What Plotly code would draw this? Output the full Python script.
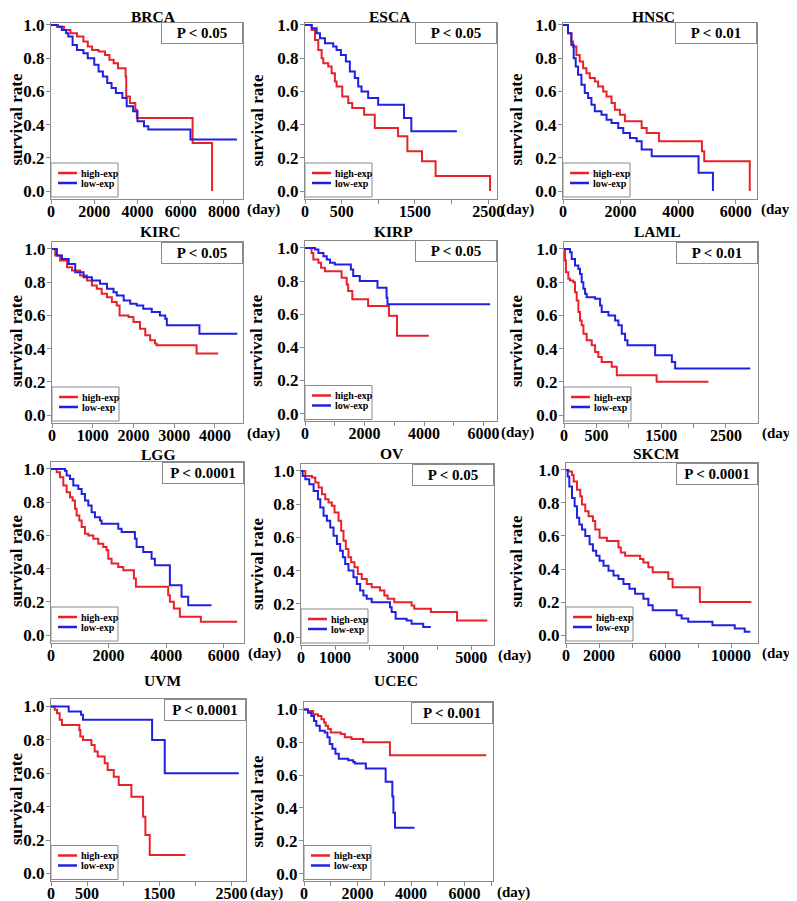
import plotly.graph_objects as go

# ---------------- data ----------------
cancers = ["BRCA", "ESCA", "HNSC", "KIRC", "KIRP", "LAML", "LGG", "OV", "SKCM", "UVM", "UCEC"]
p_labels = ["P < 0.05", "P < 0.05", "P < 0.01", "P < 0.05", "P < 0.05", "P < 0.01",
            "P < 0.0001", "P < 0.05", "P < 0.0001", "P < 0.0001", "P < 0.001"]
series_names = ["high-exp", "low-exp"]
y_tick_vals = [0.0, 0.2, 0.4, 0.6, 0.8, 1.0]
y_tick_text = ["0.0", "0.2", "0.4", "0.6", "0.8", "1.0"]

brca_high_days = [0, 300, 600, 900, 1200, 1500, 1700, 1900, 2200, 2500, 2700, 2900, 3100, 3450, 3480, 3650, 3900, 3970, 6550, 7450]
brca_high_surv = [1.0, 0.99, 0.97, 0.95, 0.93, 0.90, 0.87, 0.85, 0.84, 0.82, 0.79, 0.77, 0.74, 0.69, 0.57, 0.53, 0.49, 0.44, 0.29, 0.0]
brca_low_days = [0, 300, 500, 700, 800, 1000, 1200, 1500, 1700, 2000, 2200, 2400, 2600, 2800, 3000, 3300, 3500, 3800, 4000, 4300, 4500, 6450, 8600]
brca_low_surv = [1.0, 0.99, 0.97, 0.95, 0.93, 0.88, 0.85, 0.83, 0.80, 0.76, 0.72, 0.69, 0.65, 0.62, 0.59, 0.56, 0.51, 0.48, 0.42, 0.39, 0.37, 0.31, 0.31]

esca_high_days = [0, 91, 136, 181, 227, 249, 317, 363, 408, 431, 508, 590, 644, 807, 952, 1270, 1397, 1597, 1782, 2525]
esca_high_surv = [1.0, 0.97, 0.91, 0.85, 0.80, 0.77, 0.75, 0.71, 0.66, 0.63, 0.57, 0.53, 0.50, 0.46, 0.38, 0.33, 0.24, 0.18, 0.09, 0.0]
esca_low_days = [0, 91, 159, 204, 272, 385, 431, 490, 558, 612, 680, 726, 771, 862, 998, 1351, 1451, 2073]
esca_low_surv = [1.0, 0.98, 0.95, 0.92, 0.89, 0.87, 0.85, 0.82, 0.78, 0.72, 0.68, 0.63, 0.60, 0.56, 0.52, 0.44, 0.36, 0.36]

hnsc_high_days = [0, 174, 291, 349, 465, 581, 698, 814, 930, 1105, 1221, 1395, 1512, 1686, 1802, 1977, 2151, 2733, 2907, 3337, 4826, 4907, 6488]
hnsc_high_surv = [1.0, 0.95, 0.90, 0.87, 0.82, 0.78, 0.74, 0.71, 0.68, 0.66, 0.63, 0.60, 0.57, 0.53, 0.49, 0.46, 0.42, 0.38, 0.35, 0.30, 0.24, 0.18, 0.0]
hnsc_low_days = [0, 174, 291, 372, 442, 523, 640, 756, 872, 988, 1105, 1337, 1512, 1686, 1919, 2093, 2326, 2558, 2733, 3081, 4709, 5209]
hnsc_low_surv = [1.0, 0.95, 0.88, 0.80, 0.75, 0.70, 0.64, 0.59, 0.56, 0.52, 0.48, 0.46, 0.43, 0.41, 0.38, 0.35, 0.32, 0.30, 0.25, 0.21, 0.11, 0.0]

kirc_high_days = [0, 80, 200, 370, 490, 690, 860, 980, 1100, 1220, 1350, 1470, 1590, 1660, 1880, 2000, 2160, 2290, 2410, 2530, 2570, 3550, 4080]
kirc_high_surv = [1.0, 0.96, 0.93, 0.89, 0.87, 0.84, 0.81, 0.78, 0.76, 0.73, 0.71, 0.68, 0.66, 0.60, 0.59, 0.56, 0.52, 0.48, 0.45, 0.43, 0.42, 0.37, 0.37]
kirc_low_days = [0, 120, 245, 410, 570, 775, 980, 1180, 1350, 1510, 1590, 1760, 1920, 2080, 2240, 2450, 2650, 2780, 2820, 3620, 4550]
kirc_low_surv = [1.0, 0.96, 0.94, 0.91, 0.86, 0.83, 0.81, 0.79, 0.76, 0.74, 0.72, 0.69, 0.67, 0.66, 0.64, 0.62, 0.60, 0.58, 0.54, 0.49, 0.49]

kirp_high_days = [0, 220, 280, 450, 540, 670, 1230, 1400, 1450, 1590, 2120, 2820, 3090, 4160]
kirp_high_surv = [1.0, 0.97, 0.93, 0.91, 0.88, 0.86, 0.82, 0.78, 0.74, 0.69, 0.65, 0.59, 0.47, 0.47]
kirp_low_days = [0, 335, 450, 620, 730, 840, 1000, 1540, 1620, 1840, 2435, 2740, 2770, 6220]
kirp_low_surv = [1.0, 0.99, 0.97, 0.95, 0.93, 0.91, 0.90, 0.87, 0.83, 0.80, 0.76, 0.70, 0.66, 0.66]

laml_high_days = [0, 15, 30, 67, 93, 144, 170, 196, 222, 247, 273, 300, 350, 428, 480, 530, 582, 737, 815, 1430, 2230]
laml_high_surv = [1.0, 0.93, 0.86, 0.82, 0.81, 0.80, 0.74, 0.69, 0.62, 0.57, 0.54, 0.49, 0.45, 0.42, 0.38, 0.35, 0.32, 0.29, 0.24, 0.20, 0.20]
laml_low_days = [0, 93, 119, 170, 222, 247, 273, 299, 325, 350, 480, 557, 582, 686, 789, 840, 892, 943, 980, 1407, 1665, 1716, 2876]
laml_low_surv = [1.0, 0.98, 0.94, 0.90, 0.88, 0.85, 0.80, 0.76, 0.73, 0.71, 0.70, 0.66, 0.62, 0.60, 0.57, 0.54, 0.49, 0.45, 0.42, 0.36, 0.32, 0.28, 0.28]

lgg_high_days = [0, 197, 312, 428, 543, 659, 751, 832, 890, 983, 1064, 1179, 1295, 1468, 1642, 1815, 1931, 1988, 2104, 2335, 2509, 2879, 2948, 4069, 4127, 4266, 4474, 5202, 6462]
lgg_high_surv = [1.0, 0.98, 0.95, 0.90, 0.86, 0.83, 0.81, 0.76, 0.72, 0.69, 0.65, 0.61, 0.60, 0.58, 0.55, 0.53, 0.51, 0.46, 0.43, 0.41, 0.39, 0.34, 0.29, 0.24, 0.20, 0.16, 0.11, 0.08, 0.08]
lgg_low_days = [0, 486, 543, 659, 775, 948, 1064, 1179, 1295, 1410, 1526, 1699, 1757, 2335, 2451, 2913, 2971, 3202, 3491, 3607, 4127, 4532, 4763, 5572]
lgg_low_surv = [1.0, 0.99, 0.96, 0.94, 0.90, 0.88, 0.85, 0.81, 0.78, 0.74, 0.71, 0.69, 0.67, 0.64, 0.62, 0.58, 0.53, 0.50, 0.46, 0.42, 0.30, 0.23, 0.18, 0.18]

ov_high_days = [0, 127, 322, 420, 517, 615, 712, 810, 907, 985, 1102, 1180, 1249, 1317, 1395, 1473, 1571, 1668, 1785, 1932, 2078, 2322, 2449, 2546, 2741, 3249, 3327, 3815, 4585, 5473]
ov_high_surv = [1.0, 0.97, 0.96, 0.93, 0.90, 0.86, 0.83, 0.81, 0.79, 0.75, 0.70, 0.64, 0.58, 0.53, 0.48, 0.45, 0.42, 0.38, 0.35, 0.32, 0.30, 0.28, 0.25, 0.23, 0.21, 0.19, 0.17, 0.15, 0.10, 0.10]
ov_low_days = [0, 49, 127, 244, 371, 498, 566, 663, 761, 859, 956, 1054, 1151, 1229, 1298, 1395, 1541, 1639, 1737, 1834, 1932, 2078, 2615, 2663, 2780, 3102, 3249, 3590, 3815]
ov_low_surv = [1.0, 0.97, 0.95, 0.92, 0.88, 0.83, 0.78, 0.73, 0.70, 0.66, 0.61, 0.56, 0.52, 0.48, 0.44, 0.40, 0.36, 0.32, 0.28, 0.25, 0.23, 0.21, 0.18, 0.15, 0.11, 0.10, 0.08, 0.06, 0.06]

skcm_high_days = [0, 161, 362, 463, 664, 865, 966, 1167, 1368, 1630, 1771, 2032, 2475, 3179, 3320, 3581, 4487, 4688, 4990, 5252, 6197, 6459, 8109, 11227]
skcm_high_surv = [1.0, 0.99, 0.97, 0.93, 0.88, 0.84, 0.79, 0.75, 0.72, 0.69, 0.64, 0.59, 0.57, 0.53, 0.50, 0.48, 0.46, 0.44, 0.41, 0.38, 0.34, 0.29, 0.20, 0.20]
skcm_low_days = [0, 101, 201, 362, 523, 664, 805, 966, 1167, 1429, 1630, 1831, 2032, 2274, 2575, 2877, 3179, 3481, 3843, 4185, 4688, 4990, 5252, 6700, 7002, 7404, 8873, 10221, 10825, 11167]
skcm_low_surv = [1.0, 0.96, 0.90, 0.83, 0.78, 0.71, 0.67, 0.64, 0.60, 0.55, 0.51, 0.48, 0.45, 0.42, 0.39, 0.36, 0.34, 0.31, 0.28, 0.25, 0.22, 0.18, 0.15, 0.12, 0.10, 0.08, 0.06, 0.04, 0.02, 0.02]

uvm_high_days = [0, 51, 83, 120, 152, 393, 406, 443, 559, 605, 647, 744, 785, 869, 938, 1113, 1275, 1307, 1367, 1861]
uvm_high_surv = [1.0, 0.98, 0.96, 0.92, 0.89, 0.86, 0.82, 0.80, 0.77, 0.73, 0.70, 0.66, 0.62, 0.58, 0.53, 0.46, 0.34, 0.23, 0.11, 0.11]
uvm_low_days = [0, 245, 416, 443, 1400, 1575, 2600]
uvm_low_surv = [1.0, 0.97, 0.95, 0.92, 0.80, 0.60, 0.60]

ucec_high_days = [0, 150, 340, 525, 650, 750, 810, 900, 1000, 1375, 1525, 1775, 2210, 3210, 6810]
ucec_high_surv = [1.0, 0.99, 0.97, 0.96, 0.94, 0.92, 0.90, 0.88, 0.86, 0.85, 0.83, 0.82, 0.80, 0.72, 0.72]
ucec_low_days = [0, 150, 275, 375, 460, 590, 775, 875, 960, 1060, 1175, 1300, 1650, 1840, 1900, 2310, 3050, 3300, 3340, 3400, 4125]
ucec_low_surv = [1.0, 0.98, 0.96, 0.93, 0.90, 0.87, 0.86, 0.83, 0.79, 0.76, 0.73, 0.70, 0.69, 0.68, 0.67, 0.64, 0.56, 0.47, 0.37, 0.28, 0.28]

# x tick values and labels (unlabelled minor ticks get "")
brca_xticks, brca_xlabels = [0, 2000, 4000, 6000, 8000], ["0", "2000", "4000", "6000", "8000"]
esca_xticks, esca_xlabels = [0, 500, 1000, 1500, 2000, 2500], ["0", "500", "", "1500", "", "2500"]
hnsc_xticks, hnsc_xlabels = [0, 2000, 4000, 6000], ["0", "2000", "4000", "6000"]
kirc_xticks, kirc_xlabels = [0, 1000, 2000, 3000, 4000], ["0", "1000", "2000", "3000", "4000"]
kirp_xticks, kirp_xlabels = [0, 1000, 2000, 3000, 4000, 5000, 6000], ["0", "", "2000", "", "4000", "", "6000"]
laml_xticks, laml_xlabels = [0, 500, 1000, 1500, 2000, 2500], ["0", "500", "", "1500", "", "2500"]
lgg_xticks, lgg_xlabels = [0, 2000, 4000, 6000], ["0", "2000", "4000", "6000"]
ov_xticks, ov_xlabels = [0, 1000, 2000, 3000, 4000, 5000], ["0", "1000", "", "3000", "", "5000"]
skcm_xticks, skcm_xlabels = [0, 2000, 4000, 6000, 8000, 10000], ["0", "2000", "", "6000", "", "10000"]
uvm_xticks, uvm_xlabels = [0, 500, 1000, 1500, 2000, 2500], ["0", "500", "", "1500", "", "2500"]
ucec_xticks, ucec_xlabels = [0, 1000, 2000, 3000, 4000, 5000, 6000, 7000], ["0", "", "2000", "", "4000", "", "6000", ""]

curves = [
    (brca_high_days, brca_high_surv, brca_low_days, brca_low_surv),
    (esca_high_days, esca_high_surv, esca_low_days, esca_low_surv),
    (hnsc_high_days, hnsc_high_surv, hnsc_low_days, hnsc_low_surv),
    (kirc_high_days, kirc_high_surv, kirc_low_days, kirc_low_surv),
    (kirp_high_days, kirp_high_surv, kirp_low_days, kirp_low_surv),
    (laml_high_days, laml_high_surv, laml_low_days, laml_low_surv),
    (lgg_high_days, lgg_high_surv, lgg_low_days, lgg_low_surv),
    (ov_high_days, ov_high_surv, ov_low_days, ov_low_surv),
    (skcm_high_days, skcm_high_surv, skcm_low_days, skcm_low_surv),
    (uvm_high_days, uvm_high_surv, uvm_low_days, uvm_low_surv),
    (ucec_high_days, ucec_high_surv, ucec_low_days, ucec_low_surv),
]
xticks = [
    (brca_xticks, brca_xlabels), (esca_xticks, esca_xlabels), (hnsc_xticks, hnsc_xlabels),
    (kirc_xticks, kirc_xlabels), (kirp_xticks, kirp_xlabels), (laml_xticks, laml_xlabels),
    (lgg_xticks, lgg_xlabels), (ov_xticks, ov_xlabels), (skcm_xticks, skcm_xlabels),
    (uvm_xticks, uvm_xlabels), (ucec_xticks, ucec_xlabels),
]

# ---------------- layout (pixel geometry, in browser-window pixels) ----------------
WIN_W, WIN_H = 797, 901
OFF = 8                      # default page margin around the plot div
W, H = WIN_W - OFF, WIN_H - OFF


def px_x(x):
    return (x - OFF) / W


def px_y(y):
    return 1 - (y - OFF) / H


# (left, right, top, bottom) of plot box, x-axis max, y-axis top, title centre (x, y), y-label x
geom = [
    (51, 243, 22.5, 198.5, 8880, 1.015, 153, 16.6, 16),
    (305, 497, 22.5, 198.5, 2620, 1.015, 390, 16.6, 257),
    (563, 757, 22.5, 198.5, 6740, 1.015, 653, 16.6, 516),
    (52, 243, 241.5, 422.5, 4690, 1.045, 160, 232, 16),
    (305, 497, 240.5, 421.0, 6450, 1.045, 393, 232, 257),
    (564, 758, 241.5, 422.5, 2995, 1.045, 657, 232, 516),
    (51, 244, 461.5, 642.5, 6700, 1.045, 158, 454, 16),
    (301, 494, 463.5, 644.5, 5670, 1.045, 392, 453, 257),
    (566, 758, 462.5, 642.5, 11630, 1.045, 656, 453, 516),
    (51, 246, 699.0, 881.0, 2700, 1.045, 162, 680, 16),
    (304, 493, 702.0, 881.0, 7060, 1.045, 396, 680, 257),
]

RED = "#E8222A"
BLUE = "#2020E0"
FRAME = "#8a8a8a"
FONT = "Liberation Serif"

# legend box size (px), relative to the bottom-left corner of each plot box
LEG_W, LEG_Y0, LEG_Y1 = 67, 1.5, 35.5
LEG_LX0, LEG_LX1, LEG_TX = 7, 26, 27.5
LEG_ROWS = (25.5, 15.5)

fig = go.Figure()
annotations = []
shapes = []
layout_upd = {}

for i, (name, plab, (hd, hs, ld, ls), (tv, tt), g) in enumerate(zip(cancers, p_labels, curves, xticks, geom)):
    n = i + 1
    sfx = "" if n == 1 else str(n)
    left, right, top, bot, xmax, ytop, tcx, tcy, ylx = g
    pw, ph = right - left, bot - top
    xd, yd = f"x{sfx} domain", f"y{sfx} domain"
    for days, surv, col, sname in ((hd, hs, RED, series_names[0]), (ld, ls, BLUE, series_names[1])):
        fig.add_trace(go.Scatter(
            x=days, y=surv, mode="lines", line=dict(color=col, width=2, shape="hv"),
            name=sname, xaxis="x" + sfx, yaxis="y" + sfx, showlegend=False,
            hoverinfo="skip",
        ))
    axcommon = dict(showline=True, mirror=True, linecolor=FRAME, linewidth=1, showgrid=False,
                    zeroline=False, ticks="outside", ticklen=4, tickcolor=FRAME, tickwidth=1)
    layout_upd["xaxis" + sfx] = dict(axcommon, domain=[px_x(left), px_x(right)], range=[0, xmax],
                                     anchor="y" + sfx, tickmode="array", tickvals=tv, ticktext=tt,
                                     ticklabelstandoff=-6,
                                     tickfont=dict(family=FONT, size=16, color="black", weight="bold"))
    layout_upd["yaxis" + sfx] = dict(axcommon, domain=[px_y(bot), px_y(top)], range=[-0.045, ytop],
                                     anchor="x" + sfx, tickmode="array", tickvals=y_tick_vals,
                                     ticktext=y_tick_text, ticklabelstandoff=-2,
                                     tickfont=dict(family=FONT, size=17, color="black", weight="bold"))
    # legend box drawn inside the bottom-left corner
    shapes.append(dict(type="rect", xref=xd, yref=yd, x0=0, x1=LEG_W / pw,
                       y0=LEG_Y0 / ph, y1=LEG_Y1 / ph, line=dict(color=FRAME, width=1),
                       fillcolor="white", layer="above"))
    for row_y, col, sname in ((LEG_ROWS[0], RED, series_names[0]), (LEG_ROWS[1], BLUE, series_names[1])):
        shapes.append(dict(type="line", xref=xd, yref=yd, x0=LEG_LX0 / pw, x1=LEG_LX1 / pw,
                           y0=row_y / ph, y1=row_y / ph, line=dict(color=col, width=2.5), layer="above"))
        annotations.append(dict(text=sname, x=LEG_TX / pw, y=row_y / ph, xref=xd, yref=yd,
                                xanchor="left", yanchor="middle", showarrow=False,
                                font=dict(family=FONT, size=10, color="black", weight="bold")))
    # panel title
    annotations.append(dict(text=name, x=px_x(tcx), y=px_y(tcy), xref="paper", yref="paper",
                            xanchor="center", yanchor="middle", showarrow=False,
                            borderpad=0, borderwidth=0,
                            font=dict(family=FONT, size=15.5, color="black", weight="bold")))
    # y label
    annotations.append(dict(text="survival rate", x=px_x(ylx), y=px_y((top + bot) / 2 + 9),
                            xref="paper", yref="paper", xanchor="center", yanchor="middle",
                            textangle=-90, showarrow=False,
                            font=dict(family=FONT, size=17, color="black", weight="bold")))
    # (day) unit label
    annotations.append(dict(text="(day)", x=1, y=0, xref=xd, yref=yd,
                            xanchor="left", yanchor="middle", xshift=2, yshift=-11, showarrow=False,
                            font=dict(family=FONT, size=15, color="black", weight="bold")))
    # P value box
    annotations.append(dict(text=plab, x=1, y=1, xref=xd, yref=yd,
                            xanchor="right", yanchor="top", showarrow=False, width=78, height=18,
                            align="center", bgcolor="white", bordercolor=FRAME, borderwidth=1,
                            borderpad=1,
                            font=dict(family=FONT, size=15, color="black", weight="bold")))

fig.update_layout(**layout_upd)
fig.update_layout(width=W, height=H,
                  margin=dict(l=0, r=0, t=0, b=0, autoexpand=False),
                  paper_bgcolor="white", plot_bgcolor="white",
                  annotations=annotations, shapes=shapes)
fig.write_html("out.html")
